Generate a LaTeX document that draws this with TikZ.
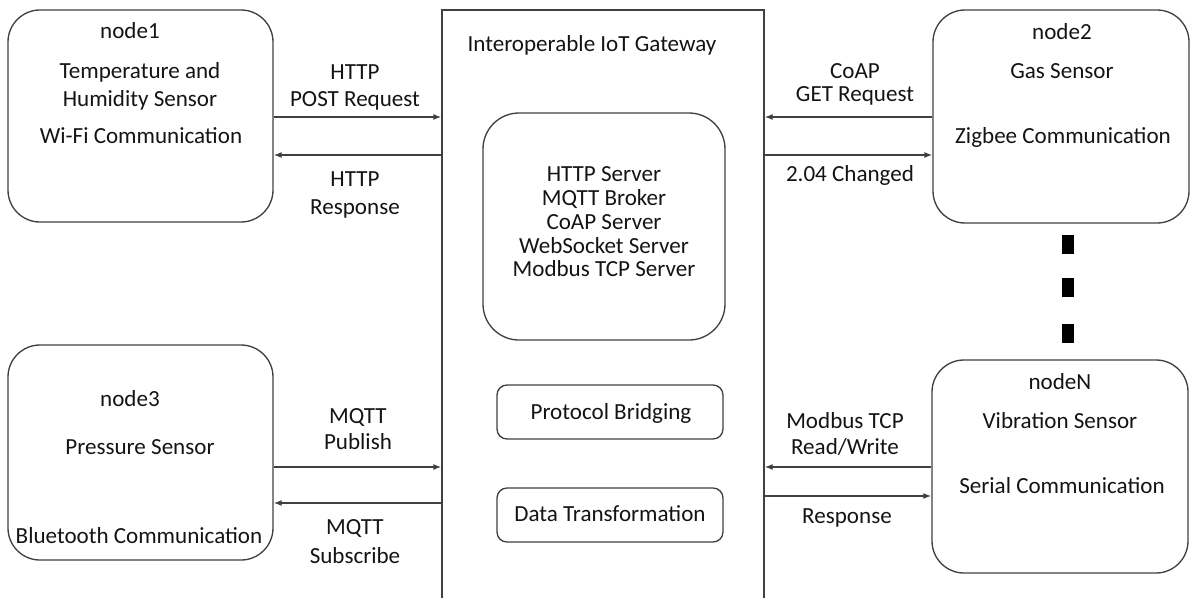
\documentclass[tikz,border=0pt]{standalone}
\usepackage{fontspec}
\setmainfont{Carlito}
\usetikzlibrary{arrows.meta,fit}
\begin{document}
\begin{tikzpicture}[x=0.75pt,y=-0.75pt,
  frame/.style={draw=black!75, line width=1pt, inner sep=0pt},
  sensor/.style={frame, rounded corners=24pt},
  service/.style={frame, rounded corners=27pt},
  stage/.style={frame, rounded corners=7.5pt},
  txt/.style={font=\fontsize{17.3}{19}\selectfont, text=black!92, inner sep=0pt, anchor=base, yshift=-5.1pt},
  arr/.style={draw=black!75, line width=1pt, -{Latex[length=6pt,width=4.5pt]}},
  dot/.style={fill=black, inner sep=0pt, minimum width=9pt, minimum height=14.25pt}]
\clip (0,0) rectangle (1190,597);

% gateway and its inner blocks
\node[frame, fit={(442,10) (764,640)}] (gw) {};
\node[txt] (gwt) at (592,45) {Interoperable IoT Gateway};
\node[service, fit={(483,113) (725,340)}] (srv) {};
\node[txt] (s1) at (604,175) {HTTP Server};
\node[txt] (s2) at (604,198.75) {MQTT Broker};
\node[txt] (s3) at (604,222.5) {CoAP Server};
\node[txt] (s4) at (604,246.25) {WebSocket Server};
\node[txt] (s5) at (604,270) {Modbus TCP Server};
\node[stage, fit={(497,385) (723,439)}] (pb) {};
\node[txt] (pbt) at (611,413) {Protocol Bridging};
\node[stage, fit={(497,488) (723,542)}] (dt) {};
\node[txt] (dtt) at (610,515) {Data Transformation};

% sensor nodes
\node[sensor, fit={(8,10) (273,222)}] (n1) {};
\node[txt] (n1a) at (130,32) {node1};
\node[txt] (n1b) at (140,72) {Temperature and};
\node[txt] (n1c) at (140,100) {Humidity Sensor};
\node[txt] (n1d) at (141,137) {Wi-Fi Communication};

\node[sensor, fit={(933,10) (1189,223)}] (n2) {};
\node[txt] (n2a) at (1062,33) {node2};
\node[txt] (n2b) at (1062,72) {Gas Sensor};
\node[txt] (n2c) at (1063,137) {Zigbee Communication};

\node[sensor, fit={(8,345) (273,560)}] (n3) {};
\node[txt] (n3a) at (130,400) {node3};
\node[txt] (n3b) at (140,448) {Pressure Sensor};
\node[txt] (n3c) at (139,537) {Bluetooth Communication};

\node[sensor, fit={(932,360) (1188,573)}] (nN) {};
\node[txt] (nNa) at (1060,383) {nodeN};
\node[txt] (nNb) at (1060,422) {Vibration Sensor};
\node[txt] (nNc) at (1062,487) {Serial Communication};

% ellipsis between node2 and nodeN
\node[dot] (d1) at (1068,244.5) {};
\node[dot] (d2) at (1068,287.5) {};
\node[dot] (d3) at (1068,333) {};

% message rows
\coordinate (r1) at (0,117);
\coordinate (r2) at (0,155);
\coordinate (r3) at (0,467);
\coordinate (r4) at (0,503);
\coordinate (r5) at (0,496);

\draw[arr] (n1.east |- r1) -- (gw.west |- r1);
\draw[arr] (gw.west |- r2) -- (n1.east |- r2);
\draw[arr] (n2.west |- r1) -- (gw.east |- r1);
\draw[arr] (gw.east |- r2) -- (n2.west |- r2);
\draw[arr] (n3.east |- r3) -- (gw.west |- r3);
\draw[arr] (gw.west |- r4) -- (n3.east |- r4);
\draw[arr] (nN.west |- r3) -- (gw.east |- r3);
\draw[arr] (gw.east |- r5) -- (nN.west |- r5);

% message labels
\node[txt] (l1a) at (355,73) {HTTP};
\node[txt] (l1b) at (355,100) {POST Request};
\node[txt] (l2a) at (355,180) {HTTP};
\node[txt] (l2b) at (355,208) {Response};
\node[txt] (l3a) at (855,72) {CoAP};
\node[txt] (l3b) at (855,95) {GET Request};
\node[txt] (l4) at (850,175) {2.04 Changed};
\node[txt] (l5a) at (358,417) {MQTT};
\node[txt] (l5b) at (358,443) {Publish};
\node[txt] (l6a) at (355,528) {MQTT};
\node[txt] (l6b) at (355,557) {Subscribe};
\node[txt] (l7a) at (845,422) {Modbus TCP};
\node[txt] (l7b) at (845,448) {Read/Write};
\node[txt] (l8) at (847,517) {Response};
\end{tikzpicture}
\end{document}
